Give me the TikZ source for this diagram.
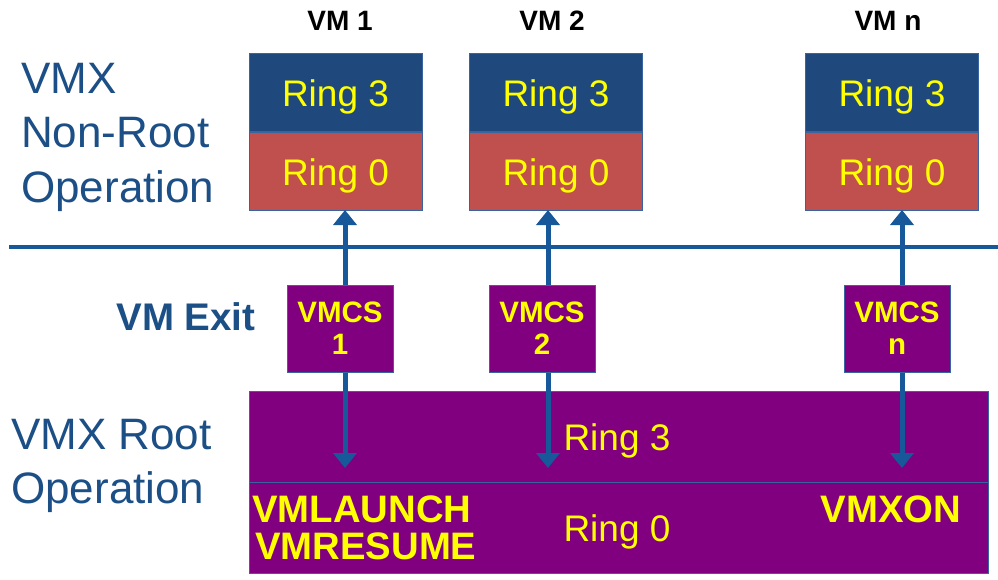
\documentclass[tikz,border=0pt]{standalone}
\usepackage{fontspec}
\setmainfont{Liberation Sans}
\usetikzlibrary{arrows.meta}
\definecolor{boxblue}{HTML}{1F497D}
\definecolor{boxred}{HTML}{C0504D}
\definecolor{vpurple}{HTML}{800080}
\definecolor{lineblue}{HTML}{17589A}
\definecolor{edgeblue}{HTML}{3A64A0}
\definecolor{txtblue}{HTML}{1B4F86}
\definecolor{vyellow}{HTML}{FFFF00}
\tikzset{
  fs/.style={font=\fontsize{#1}{#1}\selectfont},
  ringbox/.style={draw=edgeblue, line width=1pt, minimum width=173pt, minimum height=78pt, inner sep=0pt, text=vyellow},
  ringtext/.style={text=vyellow, fs=37, inner sep=0pt},
  vmcsbox/.style={draw=edgeblue, fill=vpurple, line width=1pt, minimum width=106pt, minimum height=87pt, inner sep=0pt, text=vyellow, align=center, font=\fontsize{29.5}{32}\selectfont\bfseries},
  vmlabel/.style={font=\fontsize{28}{28}\selectfont\bfseries, text=black},
  sidelabel/.style={text=txtblue, align=left, font=\fontsize{44}{54.5}\selectfont, inner sep=0pt},
  conn/.style={draw=lineblue, line width=5pt, -{Triangle[width=23pt,length=15pt]}, shorten >=-1pt},
  yellowbold/.style={text=vyellow, align=left, font=\fontsize{38.3}{37}\selectfont\bfseries, inner sep=0pt}
}
\begin{document}
\begin{tikzpicture}[x=1pt,y=-1pt]
\useasboundingbox (0,0) rectangle (998,580);
\fill[white] (0,0) rectangle (998,580);

% VM labels
\node[vmlabel] (l1) at (340,21) {VM 1};
\node[vmlabel] (l2) at (552,21) {VM 2};
\node[vmlabel] (ln) at (888,21) {VM n};

% VM boxes
\node[ringbox, fill=boxblue] (vm1t) at (335.5,92.5) {};
\node[ringbox, fill=boxred, anchor=north] (vm1b) at (vm1t.south) {};
\node[ringbox, fill=boxblue] (vm2t) at (556,92.5) {};
\node[ringbox, fill=boxred, anchor=north] (vm2b) at (vm2t.south) {};
\node[ringbox, fill=boxblue] (vmnt) at (892,92.5) {};
\node[ringbox, fill=boxred, anchor=north] (vmnb) at (vmnt.south) {};
\node[ringtext, anchor=base] (t1a) at ([yshift=-14pt]vm1t.center) {Ring 3};
\node[ringtext, anchor=base] (t1b) at ([yshift=-14pt]vm1b.center) {Ring 0};
\node[ringtext, anchor=base] (t2a) at ([yshift=-14pt]vm2t.center) {Ring 3};
\node[ringtext, anchor=base] (t2b) at ([yshift=-14pt]vm2b.center) {Ring 0};
\node[ringtext, anchor=base] (tna) at ([yshift=-14pt]vmnt.center) {Ring 3};
\node[ringtext, anchor=base] (tnb) at ([yshift=-14pt]vmnb.center) {Ring 0};

% side labels
\node[sidelabel, anchor=north west] (nonroot) at (21,63) {VMX\\Non-Root\\Operation};
\node[sidelabel, anchor=north west] (root) at (11,419) {VMX Root\\Operation};
\node[text=txtblue, font=\fontsize{38.5}{38}\selectfont\bfseries] (exit) at (186,317) {VM Exit};

% separator line
\coordinate (sepL) at (9,247);
\coordinate (sepR) at (998,247);
\draw[lineblue, line width=4pt] (sepL) -- (sepR);

% bottom box
\node[draw=edgeblue, fill=vpurple, line width=1pt, minimum width=739pt, minimum height=91pt, inner sep=0pt, anchor=north west] (root3) at (249,391) {};
\node[draw=edgeblue, fill=vpurple, line width=1pt, minimum width=739pt, minimum height=91pt, inner sep=0pt, anchor=north west] (root0) at (249,482) {};
\node[ringtext, anchor=base] (r3txt) at (617,450) {Ring 3};
\node[ringtext, anchor=base] (r0txt) at (617,541) {Ring 0};
\node[yellowbold, anchor=west] (launch) at (252,528) {VMLAUNCH\\\hspace*{3pt}VMRESUME};
\node[yellowbold] (vmxon) at (891,509) {VMXON};

% arrow coordinates
\coordinate (a1) at (345,0);
\coordinate (a2) at (548,0);
\coordinate (an) at (902,0);
\coordinate (d1) at (345,467);
\coordinate (d2) at (548,467);
\coordinate (dn) at (902,467);

% VMCS boxes
\node[vmcsbox] (c1) at (340,328.5) {VMCS\\1};
\node[vmcsbox] (c2) at (542,328.5) {VMCS\\2};
\node[vmcsbox] (cn) at (897,328.5) {VMCS\\n};

% connectors
\draw[conn] (c1.north -| a1) -- (vm1b.south -| a1);
\draw[conn] (c2.north -| a2) -- (vm2b.south -| a2);
\draw[conn] (cn.north -| an) -- (vmnb.south -| an);
\draw[conn] (c1.south -| a1) -- (d1);
\draw[conn] (c2.south -| a2) -- (d2);
\draw[conn] (cn.south -| an) -- (dn);
\end{tikzpicture}
\end{document}
